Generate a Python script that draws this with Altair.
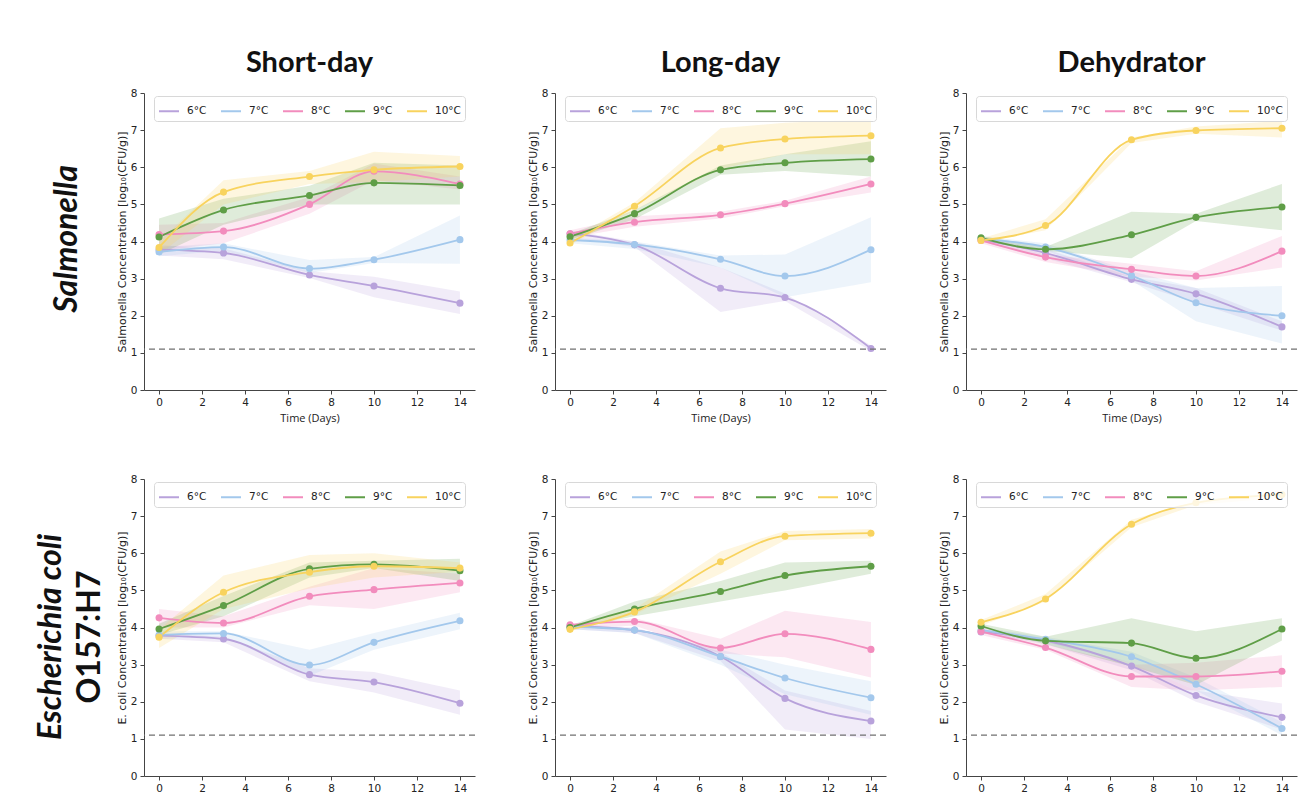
import altair as alt
import pandas as pd

days = [0, 3, 7, 10, 14]
temps = ["6°C", "7°C", "8°C", "9°C", "10°C"]
colors = ["#b8a2db", "#a3c8ec", "#f28cbd", "#5f9e47", "#f8d35e"]
x_ticks = [0, 2, 4, 6, 8, 10, 12, 14]
y_ticks = [0, 1, 2, 3, 4, 5, 6, 7, 8]
detection_limit = [1.1]

col_titles = ["Short-day", "Long-day", "Dehydrator"]

# ---- Salmonella ----
sal_short_mean = {"6°C": [3.78, 3.69, 3.10, 2.80, 2.34], "7°C": [3.72, 3.85, 3.27, 3.51, 4.05],
                  "8°C": [4.19, 4.28, 5.00, 5.89, 5.55], "9°C": [4.12, 4.85, 5.24, 5.58, 5.51],
                  "10°C": [3.84, 5.33, 5.75, 5.93, 6.02]}
sal_short_lo = {"6°C": [3.62, 3.52, 3.02, 2.50, 2.05], "7°C": [3.60, 3.75, 3.15, 3.42, 3.40],
                "8°C": [3.75, 3.95, 4.75, 5.65, 5.40], "9°C": [3.65, 4.45, 5.00, 5.00, 5.00],
                "10°C": [3.65, 5.00, 5.55, 5.60, 5.75]}
sal_short_hi = {"6°C": [3.90, 3.82, 3.20, 3.05, 2.65], "7°C": [3.85, 3.95, 3.50, 3.58, 4.70],
                "8°C": [4.45, 4.50, 5.20, 6.10, 5.75], "9°C": [4.62, 5.15, 5.50, 6.12, 6.05],
                "10°C": [4.00, 5.65, 5.90, 6.42, 6.30]}

sal_long_mean = {"6°C": [4.21, 3.91, 2.74, 2.49, 1.12], "7°C": [4.04, 3.92, 3.52, 3.07, 3.78],
                 "8°C": [4.21, 4.52, 4.72, 5.02, 5.55], "9°C": [4.13, 4.75, 5.93, 6.12, 6.22],
                 "10°C": [3.96, 4.95, 6.52, 6.76, 6.85]}
sal_long_lo = {"6°C": [4.10, 3.85, 2.10, 2.40, 1.05], "7°C": [3.95, 3.80, 3.30, 2.50, 2.90],
               "8°C": [4.10, 4.40, 4.62, 4.95, 5.32], "9°C": [4.05, 4.60, 5.80, 5.90, 5.75],
               "10°C": [3.90, 4.85, 5.95, 6.35, 6.35]}
sal_long_hi = {"6°C": [4.30, 4.00, 3.30, 2.60, 1.20], "7°C": [4.10, 4.00, 3.62, 3.65, 4.65],
               "8°C": [4.30, 4.68, 4.80, 5.10, 5.75], "9°C": [4.20, 4.85, 6.05, 6.35, 6.70],
               "10°C": [4.05, 5.05, 7.05, 7.20, 7.30]}

sal_dehy_mean = {"6°C": [4.05, 3.69, 2.98, 2.59, 1.70], "7°C": [4.08, 3.85, 3.08, 2.35, 2.00],
                 "8°C": [4.03, 3.58, 3.25, 3.07, 3.74], "9°C": [4.10, 3.79, 4.18, 4.65, 4.93],
                 "10°C": [4.03, 4.43, 6.74, 6.99, 7.05]}
sal_dehy_lo = {"6°C": [4.00, 3.55, 2.90, 2.35, 1.60], "7°C": [4.05, 3.75, 2.95, 1.85, 1.25],
               "8°C": [3.95, 3.45, 3.05, 2.95, 3.30], "9°C": [4.05, 3.75, 3.55, 4.55, 4.30],
               "10°C": [3.98, 4.30, 6.65, 6.90, 6.80]}
sal_dehy_hi = {"6°C": [4.10, 3.80, 3.05, 2.75, 1.85], "7°C": [4.15, 3.95, 3.20, 2.75, 2.80],
               "8°C": [4.10, 3.65, 3.40, 3.20, 4.15], "9°C": [4.15, 3.85, 4.80, 4.75, 5.55],
               "10°C": [4.08, 4.60, 6.80, 7.10, 7.25]}

# ---- E. coli O157:H7 ----
eco_short_mean = {"6°C": [3.78, 3.69, 2.73, 2.53, 1.96], "7°C": [3.80, 3.84, 2.99, 3.60, 4.18],
                  "8°C": [4.26, 4.12, 4.84, 5.02, 5.20], "9°C": [3.96, 4.59, 5.58, 5.70, 5.53],
                  "10°C": [3.74, 4.95, 5.49, 5.65, 5.60]}
eco_short_lo = {"6°C": [3.70, 3.60, 2.55, 2.25, 1.65], "7°C": [3.70, 3.75, 2.70, 3.40, 3.95],
                "8°C": [4.00, 4.00, 4.60, 4.50, 4.95], "9°C": [3.80, 4.30, 5.35, 5.60, 5.25],
                "10°C": [3.45, 4.50, 5.05, 5.35, 5.50]}
eco_short_hi = {"6°C": [3.85, 3.75, 2.90, 2.80, 2.30], "7°C": [3.90, 3.90, 3.40, 3.85, 4.40],
                "8°C": [4.50, 4.30, 5.10, 5.60, 5.45], "9°C": [4.10, 4.85, 5.75, 5.80, 5.85],
                "10°C": [3.95, 5.40, 5.95, 6.00, 5.75]}

eco_long_mean = {"6°C": [4.04, 3.93, 3.22, 2.09, 1.48], "7°C": [4.02, 3.93, 3.22, 2.64, 2.11],
                 "8°C": [4.07, 4.16, 3.45, 3.83, 3.41], "9°C": [4.00, 4.50, 4.97, 5.40, 5.65],
                 "10°C": [3.95, 4.42, 5.77, 6.46, 6.54]}
eco_long_lo = {"6°C": [3.95, 3.85, 3.10, 1.25, 1.00], "7°C": [3.95, 3.85, 3.00, 2.20, 1.65],
               "8°C": [4.00, 4.05, 3.30, 3.20, 2.65], "9°C": [3.95, 4.30, 4.70, 5.00, 5.45],
               "10°C": [3.90, 4.35, 5.45, 6.35, 6.40]}
eco_long_hi = {"6°C": [4.10, 4.00, 3.35, 2.30, 1.75], "7°C": [4.05, 3.95, 3.40, 3.00, 2.55],
               "8°C": [4.10, 4.25, 3.70, 4.45, 4.15], "9°C": [4.05, 4.70, 5.25, 5.75, 5.80],
               "10°C": [4.00, 4.50, 6.05, 6.60, 6.65]}

eco_dehy_mean = {"6°C": [3.88, 3.65, 2.96, 2.17, 1.58], "7°C": [3.93, 3.68, 3.21, 2.47, 1.28],
                 "8°C": [3.89, 3.46, 2.68, 2.68, 2.82], "9°C": [4.04, 3.64, 3.58, 3.17, 3.96],
                 "10°C": [4.14, 4.77, 6.78, 7.36, 7.58]}
eco_dehy_lo = {"6°C": [3.85, 3.55, 2.85, 2.00, 1.25], "7°C": [3.85, 3.60, 3.05, 2.30, 1.10],
               "8°C": [3.80, 3.40, 2.40, 2.30, 2.40], "9°C": [4.00, 3.55, 2.95, 2.45, 3.65],
               "10°C": [4.05, 4.70, 6.70, 7.30, 7.50]}
eco_dehy_hi = {"6°C": [3.95, 3.70, 3.05, 2.30, 1.95], "7°C": [4.00, 3.75, 3.35, 2.65, 1.45],
               "8°C": [4.00, 3.55, 3.00, 3.05, 3.25], "9°C": [4.10, 3.75, 4.25, 3.90, 4.25],
               "10°C": [4.20, 4.90, 6.90, 7.40, 7.65]}

PW, PH = 331, 297
FONT = "DejaVu Sans"


def make_df(mean, lo, hi):
    rows = []
    for t in temps:
        for d, m, l, h in zip(days, mean[t], lo[t], hi[t]):
            rows.append({"temp": t, "day": d, "mean": m, "lo": l, "hi": h})
    return pd.DataFrame(rows)


def panel(mean, lo, hi, ytitle, title=None, xtitle=None):
    df = make_df(mean, lo, hi)
    xs = alt.Scale(domain=[-0.7, 14.7], nice=False, zero=False)
    ys = alt.Scale(domain=[0, 8], nice=False)
    xax = alt.Axis(values=x_ticks, title=xtitle, format="d")
    yax = alt.Axis(values=y_ticks, title=ytitle, format="d")
    X = alt.X("day:Q", scale=xs, axis=xax)
    base = alt.Chart(df)
    layers = []
    for t, c in zip(temps, colors):
        layers.append(base.transform_filter(alt.datum.temp == t).mark_area(
            opacity=0.2, color=c, interpolate="linear").encode(
            x=X, y=alt.Y("lo:Q", scale=ys, axis=yax), y2="hi:Q"))
    layers.append(base.mark_line(strokeWidth=1.8, interpolate="monotone").encode(
        x=X,
        y=alt.Y("mean:Q", scale=ys, axis=yax),
        stroke=alt.Stroke(
            "temp:N", scale=alt.Scale(domain=temps, range=colors),
            legend=alt.Legend(
                title=None, orient="none", legendX=10, legendY=3, direction="horizontal",
                symbolType="stroke", symbolSize=400, symbolStrokeWidth=2,
                labelFont=FONT, labelFontSize=10.5, labelColor="#222", labelOffset=7,
                columnPadding=10, padding=4, strokeColor="#d8d8d8",
                fillColor="rgba(255,255,255,0.8)", cornerRadius=3,
            ),
        ),
    ))
    for t, c in zip(temps, colors):
        layers.append(base.transform_filter(alt.datum.temp == t).mark_circle(
            size=50, opacity=1, color=c).encode(
            x=X, y=alt.Y("mean:Q", scale=ys, axis=yax)))
    layers.append(alt.Chart(pd.DataFrame({"lod": detection_limit})).mark_rule(
        color="#707070", strokeDash=[6, 4], strokeWidth=1.4
    ).encode(y=alt.Y("lod:Q", scale=ys, axis=yax)))
    ch = alt.layer(*layers).properties(width=PW, height=PH)
    if title:
        ch = ch.properties(title=alt.TitleParams(
            title, font="Lato", fontSize=29, fontWeight="bold", color="#111",
            anchor="middle", offset=10))
    return ch


sal_y = "Salmonella Concentration [log₁₀(CFU/g)]"
eco_y = "E. coli Concentration [log₁₀(CFU/g)]"


def indep(c):
    return c.resolve_scale(stroke="independent").resolve_legend(stroke="independent")


r1 = indep(alt.hconcat(
    panel(sal_short_mean, sal_short_lo, sal_short_hi, sal_y, col_titles[0], "Time (Days)"),
    panel(sal_long_mean, sal_long_lo, sal_long_hi, sal_y, col_titles[1], "Time (Days)"),
    panel(sal_dehy_mean, sal_dehy_lo, sal_dehy_hi, sal_y, col_titles[2], "Time (Days)"),
    spacing=51,
))

r2 = indep(alt.hconcat(
    panel(eco_short_mean, eco_short_lo, eco_short_hi, eco_y),
    panel(eco_long_mean, eco_long_lo, eco_long_hi, eco_y),
    panel(eco_dehy_mean, eco_dehy_lo, eco_dehy_hi, eco_y),
    spacing=51,
))

row_labels = ["Salmonella", "Escherichia coli", "O157:H7"]

lab1 = alt.Chart(pd.DataFrame({"t": [row_labels[0]]})).mark_text(
    angle=270, font="Lato", fontSize=32, fontWeight="bold", fontStyle="italic",
    color="#111", align="center", baseline="middle"
).encode(text="t:N", x=alt.value(59), y=alt.value(146)).properties(width=102, height=PH + 45)

lab2a = alt.Chart(pd.DataFrame({"t": [row_labels[1]]})).mark_text(
    angle=270, font="Lato", fontSize=32, fontWeight="bold", fontStyle="italic",
    color="#111", align="center", baseline="middle"
).encode(text="t:N", x=alt.value(43), y=alt.value(158))
lab2b = alt.Chart(pd.DataFrame({"t": [row_labels[2]]})).mark_text(
    angle=270, font="Lato", fontSize=32, fontWeight="bold",
    color="#111", align="center", baseline="middle"
).encode(text="t:N", x=alt.value(82), y=alt.value(158))
lab2 = alt.layer(lab2a, lab2b).properties(width=102, height=PH)

row1 = indep(alt.hconcat(lab1, r1, spacing=6))
row2 = indep(alt.hconcat(lab2, r2, spacing=6))

chart = indep(alt.vconcat(row1, row2, spacing=39)).properties(
    padding={"left": 0, "top": 41, "right": 0, "bottom": 0}
).configure(background="white").configure_view(stroke=None).configure_axis(
    grid=False, domainColor="#444", tickColor="#444", labelColor="#222",
    labelFont=FONT, labelFontSize=10.5, tickSize=4, labelPadding=3,
    titleFontWeight="normal", titleColor="#222",
).configure_axisX(
    titleFont="Open Sans", titleFontSize=11, titlePadding=5,
).configure_axisY(
    titleFont=FONT, titleFontSize=11, titlePadding=3,
)

chart.save("out.html", embed_options={"renderer": "svg", "actions": False})
